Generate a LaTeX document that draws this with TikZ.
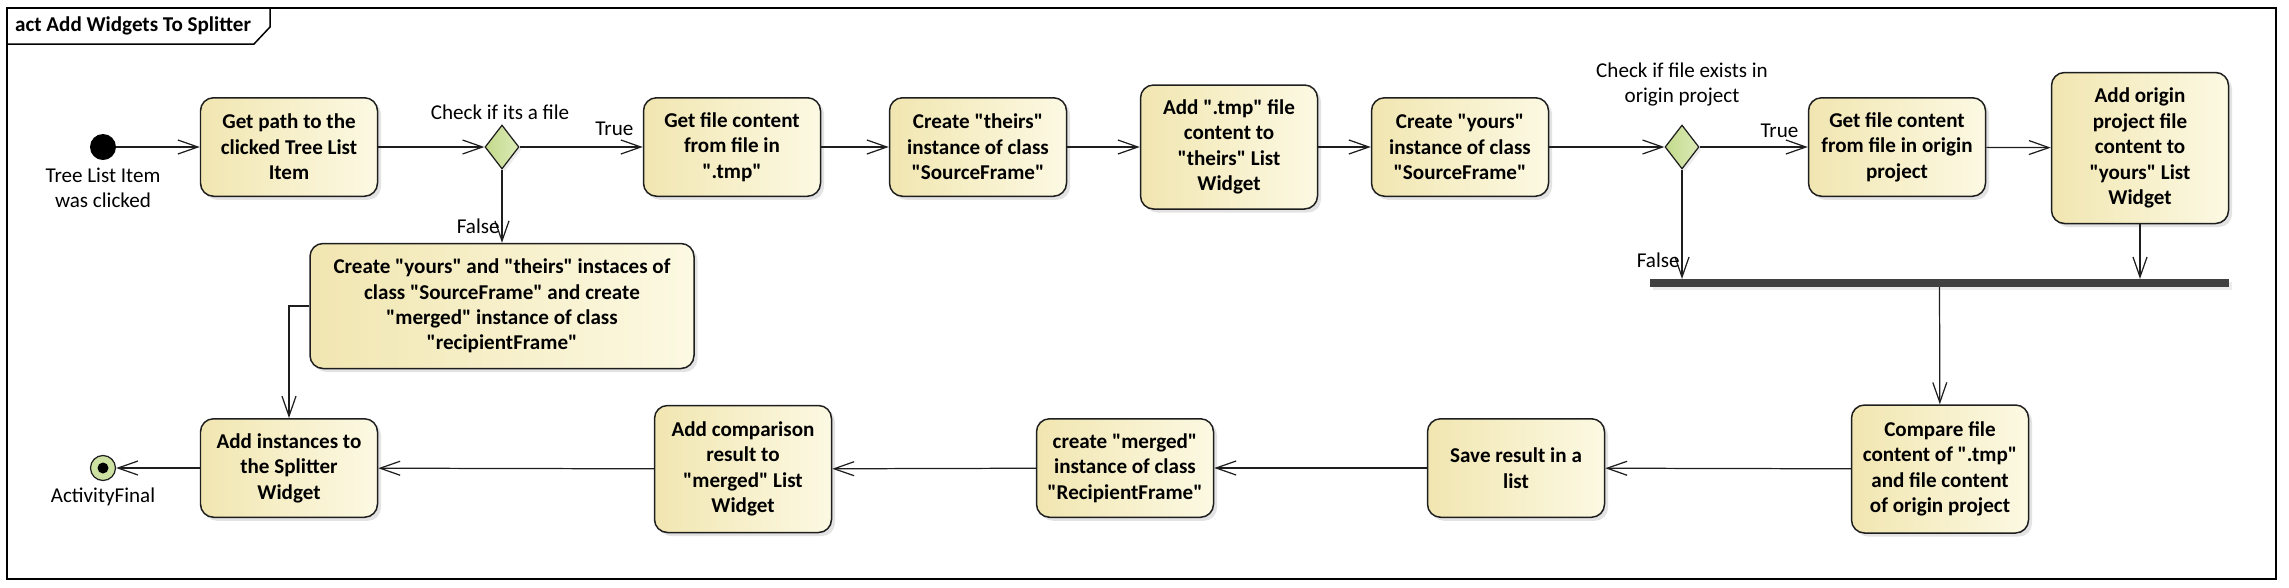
\documentclass[tikz,border=0pt]{standalone}
\usepackage{fontspec}
\setmainfont{Carlito}[Ligatures=TeXOff]
\usetikzlibrary{positioning,shapes.geometric,arrows.meta,shadows}

\definecolor{actleft}{HTML}{F1E6B1}
\definecolor{actright}{HTML}{FCF9E3}
\definecolor{decleft}{HTML}{C2D98A}
\definecolor{decright}{HTML}{DDEBB8}
\definecolor{finalfill}{HTML}{CDE2A2}
\definecolor{barfill}{HTML}{404040}
\definecolor{edgecol}{HTML}{1E1E1E}

\begin{document}
\begin{tikzpicture}[
    action/.style={rectangle, rounded corners=0.26cm, draw=edgecol, line width=0.85pt,
      left color=actleft, right color=actright, minimum width=3.54cm, minimum height=1.97cm,
      align=center, font=\fontsize{12}{14.5}\selectfont\bfseries,
      drop shadow={shadow xshift=0.07cm, shadow yshift=-0.07cm, fill=black!22}},
    decision/.style={diamond, draw=edgecol, line width=0.7pt, left color=decleft, right color=decright,
      minimum width=0.68cm, minimum height=0.88cm, inner sep=0pt,
      drop shadow={shadow xshift=0.05cm, shadow yshift=-0.05cm, fill=black!15}},
    start/.style={circle, fill=black, minimum size=0.52cm, inner sep=0pt},
    final/.style={circle, draw=edgecol, line width=0.7pt, fill=finalfill, minimum size=0.5cm, inner sep=0pt,
      path picture={\fill[black] (path picture bounding box.center) circle (0.11cm);}},
    joinbar/.style={rectangle, fill=barfill, minimum width=11.58cm, minimum height=0.15cm, inner sep=0pt,
      drop shadow={shadow xshift=0.06cm, shadow yshift=-0.06cm, fill=black!15}},
    guard/.style={font=\fontsize{12}{14.5}\selectfont, inner sep=1pt},
    flow/.style={draw=edgecol, line width=0.7pt, -{Straight Barb[length=0.4cm, width=0.28cm, line width=0.7pt]}}
  ]
    \useasboundingbox (0,0) rectangle (45.78,-11.74);

    % Rahmen
    \draw[line width=0.85pt] (0.14,-0.16) rectangle (45.52,-11.58);
    \draw[line width=0.85pt] (0.14,-0.88) -- (5.08,-0.88) -- (5.40,-0.54) -- (5.40,-0.16);
    \node[guard, font=\fontsize{12}{14.5}\selectfont\bfseries, anchor=west] (title) at (0.26,-0.52) {act Add Widgets To Splitter};

    % Obere Reihe
    \node[start] (init) at (2.06,-2.94) {};
    \node[guard, align=center] (initlbl) at (2.06,-3.76) {Tree List Item\\was clicked};
    \node[action] (path) at (5.78,-2.94) {Get path to the\\clicked Tree List\\Item};
    \node[decision] (isfile) at (10.04,-2.94) {};
    \node[guard] (isfilelbl) at (10.0,-2.24) {Check if its a file};
    \node[action] (tmpcontent) at (14.64,-2.94) {Get file content\\from file in\\".tmp"};
    \node[action] (theirs) at (19.56,-2.94) {Create "theirs"\\instance of class\\"SourceFrame"};
    \node[action, minimum height=2.48cm] (theirslist) at (24.58,-2.94) {Add ".tmp" file\\content to\\"theirs" List\\Widget};
    \node[action] (yours) at (29.2,-2.94) {Create "yours"\\instance of class\\"SourceFrame"};
    \node[decision] (exists) at (33.64,-2.94) {};
    \node[guard, align=center] (existslbl) at (33.64,-1.69) {Check if file exists in\\origin project};
    \node[action] (origcontent) at (37.94,-2.94) {Get file content\\from file in origin\\project};
    \node[action, minimum height=3.02cm] (yourslist) at (42.8,-2.96) {Add origin\\project file\\content to\\"yours" List\\Widget};

    % Mitte
    \node[action, minimum width=7.68cm, minimum height=2.5cm] (createall) at (10.04,-6.12) {Create "yours" and "theirs" instaces of\\class "SourceFrame" and create\\"merged" instance of class\\"recipientFrame"};
    \node[joinbar] (join) at (38.79,-5.66) {};

    % Untere Reihe
    \node[action, minimum height=2.56cm] (compare) at (38.8,-9.38) {Compare file\\content of ".tmp"\\and file content\\of origin project};
    \node[action] (save) at (30.32,-9.36) {Save result in a\\list};
    \node[action] (merged) at (22.5,-9.36) {create "merged"\\instance of class\\"RecipientFrame"};
    \node[action, minimum height=2.54cm] (addresult) at (14.86,-9.38) {Add comparison\\result to\\"merged" List\\Widget};
    \node[action] (addinst) at (5.78,-9.36) {Add instances to\\the Splitter\\Widget};
    \node[final] (done) at (2.06,-9.36) {};
    \node[guard] (donelbl) at (2.06,-9.94) {ActivityFinal};

    % Kanten
    \draw[flow] (init) -- (path);
    \draw[flow] (path) -- (isfile);
    \draw[flow] (isfile) -- node[guard, pos=1, anchor=south east, xshift=-0.14cm, yshift=0.18cm] {True} (tmpcontent);
    \draw[flow] (isfile) -- node[guard, pos=0.77, left] {False} (createall);
    \draw[flow] (tmpcontent) -- (theirs);
    \draw[flow] (theirs) -- (theirslist);
    \draw[flow] (theirslist) -- (yours);
    \draw[flow] (yours) -- (exists);
    \draw[flow] (exists) -- node[guard, pos=1, anchor=south east, xshift=-0.14cm, yshift=0.14cm] {True} (origcontent);
    \draw[flow] (exists) -- node[guard, pos=0.83, left] {False} (exists |- join.north);
    \draw[flow] (origcontent) -- (yourslist);
    \draw[flow] (yourslist) -- (yourslist |- join.north);
    \draw[flow] (join) -- (compare);
    \draw[flow] (compare) -- (save);
    \draw[flow] (save) -- (merged);
    \draw[flow] (merged) -- (addresult);
    \draw[flow] (addresult) -- (addinst);
    \draw[flow] (addinst) -- (done);
    \draw[flow] (createall.west) -| (addinst.north);
  \end{tikzpicture}
\end{document}
